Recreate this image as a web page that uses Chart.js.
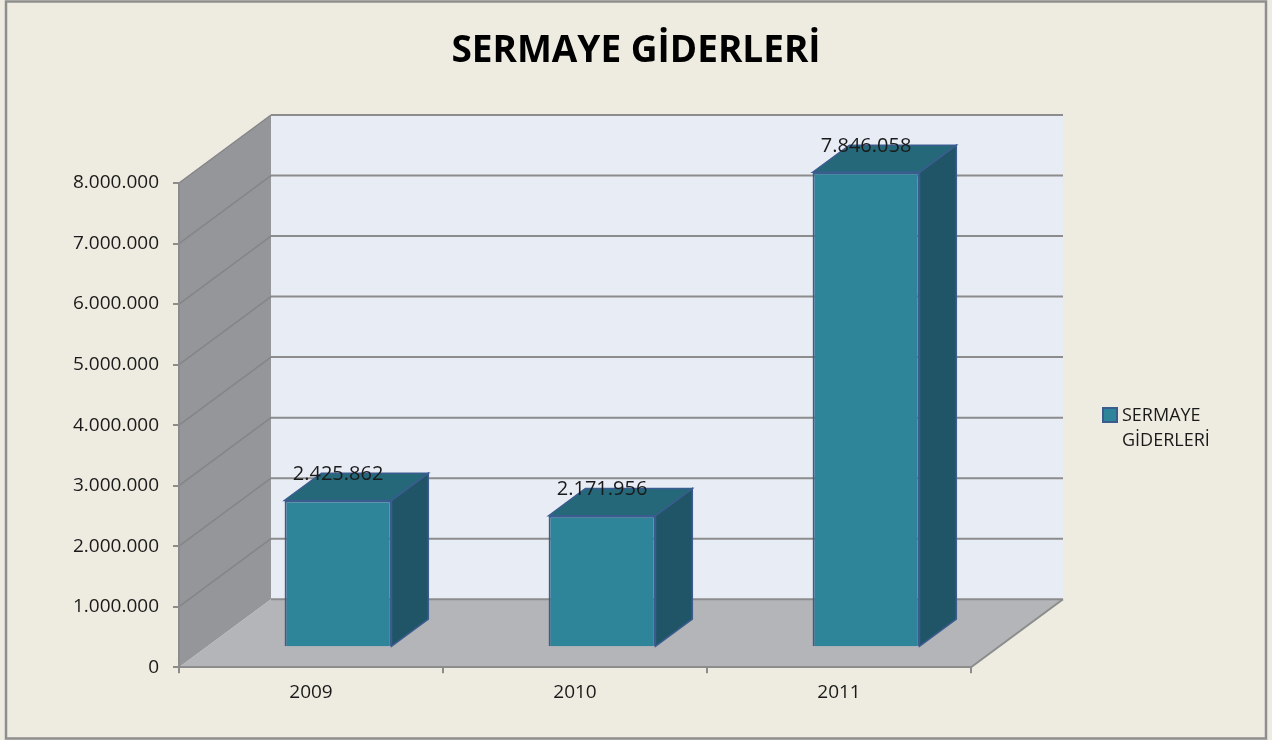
<!DOCTYPE html>
<html lang="tr">
<head>
<meta charset="utf-8">
<title>Sermaye Giderleri</title>
<script src="https://cdn.jsdelivr.net/npm/chart.js@4/dist/chart.umd.min.js"></script>
<style>
  html, body { margin: 0; padding: 0; background: #eeece1; }
  canvas { display: block; }
</style>
</head>
<body>
<canvas id="chart" width="1272" height="740"></canvas>
<script>
  // Chart data
  const chartTitle = 'SERMAYE GİDERLERİ';
  const seriesLabel = 'SERMAYE GİDERLERİ';
  const years = ['2009', '2010', '2011'];
  const expenses = [2425862, 2171956, 7846058];
  const yMin = 0;
  const yMax = 8000000;
  const yStep = 1000000;

  // Look
  const FONT = "'Open Sans', 'DejaVu Sans', sans-serif";
  const TEXT = '#1a1a1a';
  const LINE = '#8c8c8c';
  const BAR_FRONT = '#2e8499';
  const BAR_SIDE = '#1f5566';
  const BAR_TOP = '#24687a';
  const BAR_EDGE = '#3b5c8e';

  // 3D depth of the plot box, and where the bars sit inside it
  const DEPTH = { dx: 92, dy: -68 };
  const BAR_FRONT_FRAC = 0.294;
  const BAR_DEPTH_FRAC = 0.4;

  const fmt = v => String(Math.round(v)).replace(/\B(?=(\d{3})+(?!\d))/g, '.');

  function poly(ctx, pts, fill, stroke, lw) {
    ctx.beginPath();
    ctx.moveTo(pts[0][0], pts[0][1]);
    for (let i = 1; i < pts.length; i++) ctx.lineTo(pts[i][0], pts[i][1]);
    ctx.closePath();
    if (fill) { ctx.fillStyle = fill; ctx.fill(); }
    if (stroke) { ctx.strokeStyle = stroke; ctx.lineWidth = lw || 1; ctx.stroke(); }
  }

  function line(ctx, x1, y1, x2, y2, color, lw) {
    ctx.beginPath();
    ctx.moveTo(x1, y1);
    ctx.lineTo(x2, y2);
    ctx.strokeStyle = color;
    ctx.lineWidth = lw;
    ctx.stroke();
  }

  /**
   * Background, frame, title and the 3D walls / floor
   */
  const wallsPlugin = {
    id: 'walls',
    beforeDraw(chart) {
      const { ctx, width, height } = chart;
      const xs = chart.scales.x, ys = chart.scales.y;
      const L = xs.left, R = xs.right;
      const T = ys.getPixelForValue(yMax), B = ys.getPixelForValue(yMin);
      const { dx, dy } = DEPTH;

      ctx.save();
      ctx.fillStyle = '#eeece1';
      ctx.fillRect(0, 0, width, height);
      ctx.strokeStyle = '#8e8e8e';
      ctx.lineWidth = 2.5;
      ctx.strokeRect(6, 1.5, width - 12, height - 3);

      // title, centred on the whole canvas
      ctx.font = 'bold 37px ' + FONT;
      ctx.fillStyle = '#000';
      ctx.textAlign = 'center';
      ctx.textBaseline = 'alphabetic';
      ctx.fillText(chartTitle, width / 2, 62);

      // back wall, left wall, floor
      poly(ctx, [[L + dx, T + dy], [R + dx, T + dy], [R + dx, B + dy], [L + dx, B + dy]], '#e8ecf5');
      poly(ctx, [[L, T], [L + dx, T + dy], [L + dx, B + dy], [L, B]], '#959699');
      poly(ctx, [[L, B], [L + dx, B + dy], [R + dx, B + dy], [R, B]], '#b3b5b8');

      // gridlines on back wall and left wall
      ys.ticks.forEach(t => {
        const py = ys.getPixelForValue(t.value);
        line(ctx, L + dx, py + dy, R + dx, py + dy, LINE, 2);
        if (t.value > yMin) line(ctx, L, py, L + dx, py + dy, '#858588', 1.5);
      });
      // floor right edge
      line(ctx, R, B, R + dx, B + dy, LINE, 2);
      ctx.restore();
    }
  };

  /**
   * Bars: side + top faces first, front face by Chart.js shifted into the box
   */
  const barsPlugin = {
    id: 'bars3d',
    beforeDatasetsDraw(chart) {
      const ctx = chart.ctx;
      const ox = DEPTH.dx * BAR_FRONT_FRAC, oy = DEPTH.dy * BAR_FRONT_FRAC;
      const bx = DEPTH.dx * BAR_DEPTH_FRAC, by = DEPTH.dy * BAR_DEPTH_FRAC;
      ctx.save();
      chart.getDatasetMeta(0).data.forEach(bar => {
        const l = bar.x - bar.width / 2 + ox, r = bar.x + bar.width / 2 + ox;
        const t = bar.y + oy, b = bar.base + oy;
        poly(ctx, [[r, t], [r + bx, t + by], [r + bx, b + by], [r, b]], BAR_SIDE, BAR_EDGE, 1.5);
        poly(ctx, [[l, t], [l + bx, t + by], [r + bx, t + by], [r, t]], BAR_TOP, BAR_EDGE, 1.5);
      });
      ctx.restore();
    },
    beforeDatasetDraw(chart) {
      chart.ctx.save();
      chart.ctx.translate(DEPTH.dx * BAR_FRONT_FRAC, DEPTH.dy * BAR_FRONT_FRAC);
    },
    afterDatasetDraw(chart) {
      chart.ctx.restore();
    },
    afterDatasetsDraw(chart) {
      const ctx = chart.ctx;
      const ox = DEPTH.dx * BAR_FRONT_FRAC, oy = DEPTH.dy * BAR_FRONT_FRAC;
      ctx.save();
      ctx.font = '20px ' + FONT;
      ctx.fillStyle = TEXT;
      ctx.textAlign = 'center';
      ctx.textBaseline = 'middle';
      chart.getDatasetMeta(0).data.forEach((bar, i) => {
        ctx.fillText(fmt(expenses[i]), bar.x + ox, bar.y + oy - 26);
      });
      ctx.restore();
    }
  };

  /**
   * Legend at the right, label wrapped on two lines
   */
  const legendPlugin = {
    id: 'sideLegend',
    afterDraw(chart) {
      const ctx = chart.ctx;
      const x0 = 1103, y0 = 408;
      ctx.save();
      ctx.fillStyle = BAR_FRONT;
      ctx.strokeStyle = BAR_EDGE;
      ctx.lineWidth = 2;
      ctx.fillRect(x0, y0, 14, 14);
      ctx.strokeRect(x0, y0, 14, 14);
      ctx.font = '18px ' + FONT;
      ctx.fillStyle = TEXT;
      ctx.textBaseline = 'middle';
      seriesLabel.split(' ').forEach((word, i) => {
        ctx.fillText(word, x0 + 19, y0 + 8 + i * 25);
      });
      ctx.restore();
    }
  };

  new Chart(document.getElementById('chart'), {
    type: 'bar',
    data: {
      labels: years,
      datasets: [{
        label: seriesLabel,
        data: expenses,
        backgroundColor: BAR_FRONT,
        borderColor: BAR_EDGE,
        borderWidth: 2,
        barPercentage: 0.405,
        categoryPercentage: 1,
        clip: false
      }]
    },
    options: {
      responsive: false,
      animation: false,
      devicePixelRatio: 1,
      layout: { padding: { left: 0, right: 301, top: 183, bottom: 28 } },
      plugins: {
        legend: { display: false },
        tooltip: { enabled: false },
        title: { display: false }
      },
      scales: {
        x: {
          grid: { drawOnChartArea: false, drawTicks: true, tickLength: 6, color: LINE, lineWidth: 2 },
          border: { display: true, color: LINE, width: 2 },
          ticks: { color: TEXT, font: { family: FONT, size: 19 }, padding: 8 }
        },
        y: {
          min: yMin,
          max: yMax,
          afterFit: scale => { scale.width = 179; },
          grid: { drawOnChartArea: false, drawTicks: true, tickLength: 6, color: LINE, lineWidth: 2 },
          border: { display: true, color: LINE, width: 2 },
          ticks: {
            stepSize: yStep,
            color: TEXT,
            font: { family: FONT, size: 19 },
            padding: 14,
            callback: v => fmt(v)
          }
        }
      }
    },
    plugins: [wallsPlugin, barsPlugin, legendPlugin]
  });
</script>
</body>
</html>
